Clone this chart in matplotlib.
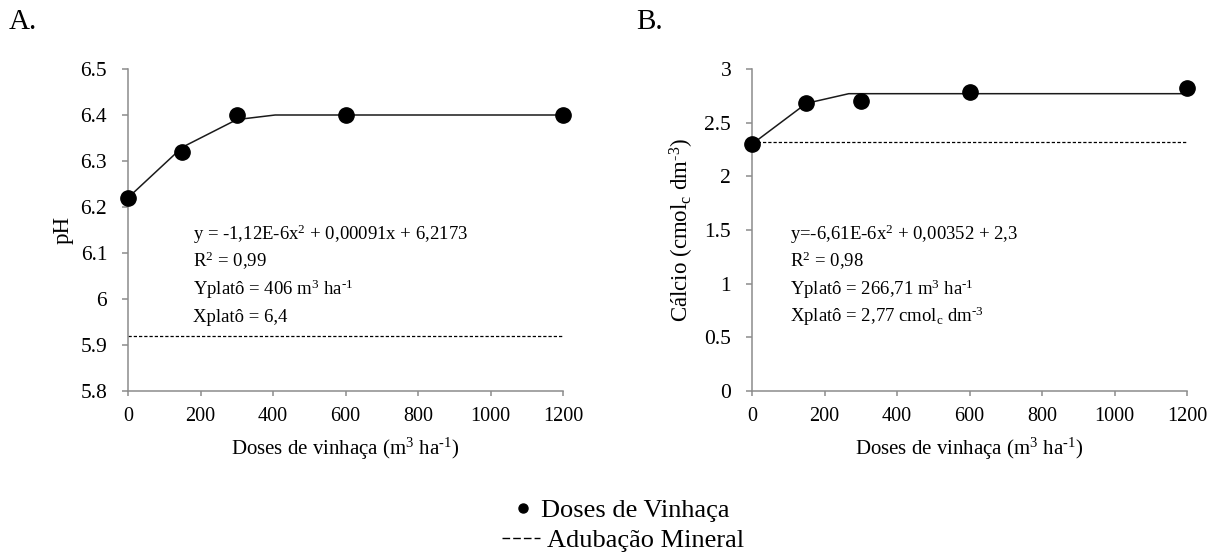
import matplotlib
matplotlib.use("Agg")
import matplotlib.pyplot as plt
from matplotlib.lines import Line2D

plt.rcParams['font.family'] = ['Liberation Serif', 'DejaVu Serif']
plt.rcParams['mathtext.fontset'] = 'custom'
plt.rcParams['mathtext.rm'] = 'Liberation Serif'
plt.rcParams['mathtext.it'] = 'Liberation Serif:italic'
plt.rcParams['mathtext.default'] = 'regular'

# Data
doses = [0, 150, 300, 600, 1200]
ph_values = [6.22, 6.32, 6.40, 6.40, 6.40]
ph_fit_x = [0, 150, 300, 406, 600, 1200]
ph_fit_y = [6.22, 6.33, 6.39, 6.40, 6.40, 6.40]
ph_mineral = 5.92

ca_values = [2.30, 2.68, 2.70, 2.79, 2.82]
ca_fit_x = [0, 150, 267, 600, 1200]
ca_fit_y = [2.30, 2.68, 2.77, 2.77, 2.77]
ca_mineral = 2.32

x_ticks = [0, 200, 400, 600, 800, 1000, 1200]
ph_ticks = [5.8, 5.9, 6.0, 6.1, 6.2, 6.3, 6.4, 6.5]
ph_ticklabels = ['5.8', '5.9', '6', '6.1', '6.2', '6.3', '6.4', '6.5']
ca_ticks = [0, 0.5, 1, 1.5, 2, 2.5, 3]
ca_ticklabels = ['0', '0.5', '1', '1.5', '2', '2.5', '3']

ph_text = ["y = -1,12E-6x$^2$ + 0,00091x + 6,2173",
           "R$^2$ = 0,99",
           r"Yplatô = 406 m$^3$ ha$^{\text{-}1}$",
           "Xplatô = 6,4"]
ca_text = ["y=-6,61E-6x$^2$ + 0,00352 + 2,3",
           "R$^2$ = 0,98",
           r"Yplatô = 266,71 m$^3$ ha$^{\text{-}1}$",
           r"Xplatô = 2,77 cmol$_c$ dm$^{\text{-}3}$"]

xlabel = r"Doses de vinhaça (m$^3$ ha$^{\text{-}1}$)"

W, H = 1222, 552
fig = plt.figure(figsize=(W / 100, H / 100), dpi=100)

AX_T, AX_B = 69, 391

def px_axes(l, r):
    return fig.add_axes([l / W, 1 - AX_B / H, (r - l) / W, (AX_B - AX_T) / H])

axA = px_axes(128, 563)
axB = px_axes(752, 1187)
AXW = 435.0
AXH = float(AX_B - AX_T)

gray = '#8c8c8c'

def style(ax):
    for s in ['top', 'right']:
        ax.spines[s].set_visible(False)
    for s in ['left', 'bottom']:
        ax.spines[s].set_color(gray)
        ax.spines[s].set_linewidth(1.1)
    ax.tick_params(axis='y', direction='out', color=gray, length=4.5, width=1.1,
                   labelsize=15.5, pad=10.5)
    ax.tick_params(axis='x', direction='out', color=gray, length=3.8, width=1.1,
                   labelsize=14.5, pad=7.5)
    ax.set_xlim(0, 1200)
    ax.set_xticks(x_ticks)
    ax.set_xlabel(xlabel, fontsize=15, va='center')
    ax.xaxis.set_label_coords(0.5, (AX_B - 449) / AXH)

# Panel A
axA.plot(ph_fit_x, ph_fit_y, color='#1a1a1a', lw=1.1, zorder=2)
axA.plot(doses, ph_values, 'o', color='black', ms=11, zorder=3, clip_on=False)
axA.plot([0, 1200], [ph_mineral, ph_mineral], color='black', lw=0.9,
         linestyle=(0, (2.6, 1.6)))
style(axA)
axA.set_ylim(5.8, 6.5)
axA.set_yticks(ph_ticks)
axA.set_yticklabels(ph_ticklabels)
axA.set_ylabel('pH', fontsize=16.5, va='center')
axA.yaxis.set_label_coords((63 - 128) / AXW, 0.5)
for i, t in enumerate(ph_text):
    axA.text((193 - 128) / AXW, (AX_B - (240 + i * 27.3)) / AXH, t,
             transform=axA.transAxes, fontsize=13.5, va='baseline', ha='left')

# Panel B
axB.plot(ca_fit_x, ca_fit_y, color='#1a1a1a', lw=1.1, zorder=2)
axB.plot(doses, ca_values, 'o', color='black', ms=11, zorder=3, clip_on=False)
axB.plot([0, 1200], [ca_mineral, ca_mineral], color='black', lw=0.9,
         linestyle=(0, (2.6, 1.6)))
style(axB)
axB.set_ylim(0, 3)
axB.set_yticks(ca_ticks)
axB.set_yticklabels(ca_ticklabels)
axB.set_ylabel(r'Cálcio (cmol$_c$ dm$^{\text{-}3}$)', fontsize=16.5, va='center')
axB.yaxis.set_label_coords((682 - 752) / AXW, 0.5)
for i, t in enumerate(ca_text):
    axB.text((790 - 752) / AXW, (AX_B - (240 + i * 27.3)) / AXH, t,
             transform=axB.transAxes, fontsize=13.5, va='baseline', ha='left')

fig.text(9 / W, 1 - 22 / H, 'A.', fontsize=21, va='center', ha='left')
fig.text(636 / W, 1 - 22 / H, 'B.', fontsize=21, va='center', ha='left')

# Legends
h1 = Line2D([], [], marker='o', color='black', linestyle='none', markersize=6.5)
h2 = Line2D([], [], color='black', lw=1.0, linestyle=(0, (5.5, 2.2)))
fig.legend([h1], ['Doses de Vinhaça'], loc='center',
           bbox_to_anchor=(623 / W, 1 - 510 / H),
           frameon=False, fontsize=19, handlelength=0.5, handletextpad=0.45,
           borderpad=0, borderaxespad=0)
fig.legend([h2], ['Adubação Mineral'], loc='center',
           bbox_to_anchor=(623 / W, 1 - 540 / H),
           frameon=False, fontsize=19, handlelength=1.45, handletextpad=0.25,
           borderpad=0, borderaxespad=0)

fig.savefig('out.png', dpi=100)
